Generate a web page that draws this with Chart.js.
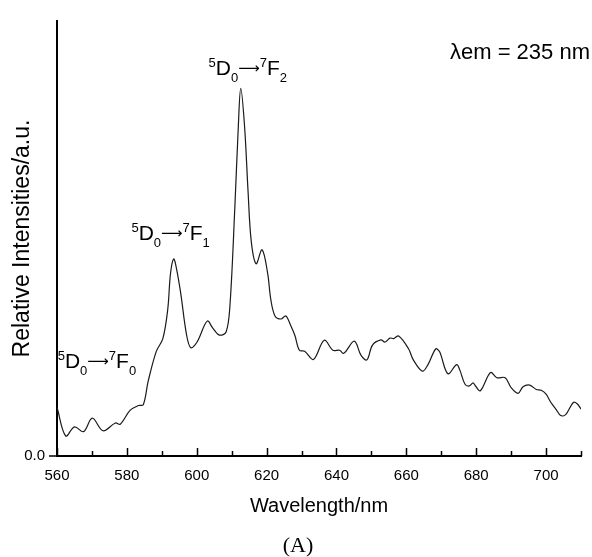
<!DOCTYPE html>
<html>
<head>
<meta charset="utf-8">
<script src="https://cdn.jsdelivr.net/npm/chart.js@4"></script>
<style>
  body { margin: 0; background: #fff; }
  #wrap { width: 592px; height: 557px; }
</style>
</head>
<body>
<div id="wrap"><canvas id="myChart" width="592" height="557"></canvas></div>
<script>
// emission spectrum
const wavelength = [
  560.0, 562.5, 565.0, 567.6, 570.1, 573.2, 576.7, 578.1, 580.9, 583.3,
  584.7, 586.1, 588.4, 590.3, 591.7, 592.5, 593.4, 594.2, 595.4, 597.1,
  598.3, 600.1, 603.0, 604.6, 606.5, 608.4, 609.5, 610.9, 611.9, 612.6,
  613.7, 614.7, 615.6, 617.0, 618.7, 620.3, 621.2, 622.4, 624.1, 625.5,
  626.9, 628.1, 629.4, 630.9, 633.4, 636.5, 639.0, 640.9, 642.1, 645.1,
  647.0, 648.7, 650.3, 652.7, 653.9, 655.3, 656.4, 657.8, 660.6, 662.0,
  664.6, 666.2, 668.4, 669.5, 671.9, 674.4, 675.3, 676.8, 678.0, 679.1,
  679.8, 681.2, 684.1, 685.9, 688.3, 690.0, 692.0, 693.4, 695.3, 697.2,
  698.6, 700.0, 701.4, 702.8, 704.2, 705.6, 707.8, 708.9, 710.0
];
const intensity = [
  0.112, 0.046, 0.067, 0.056, 0.087, 0.058, 0.076, 0.073, 0.105, 0.116,
  0.118, 0.172, 0.240, 0.270, 0.337, 0.420, 0.453, 0.431, 0.375, 0.278,
  0.249, 0.262, 0.310, 0.294, 0.278, 0.285, 0.345, 0.570, 0.757, 0.845,
  0.757, 0.607, 0.494, 0.442, 0.474, 0.420, 0.360, 0.322, 0.315, 0.322,
  0.300, 0.277, 0.243, 0.241, 0.222, 0.266, 0.243, 0.243, 0.236, 0.264,
  0.232, 0.221, 0.255, 0.267, 0.262, 0.271, 0.270, 0.276, 0.247, 0.221,
  0.195, 0.210, 0.246, 0.240, 0.189, 0.210, 0.198, 0.165, 0.161, 0.168,
  0.161, 0.150, 0.192, 0.180, 0.180, 0.157, 0.144, 0.159, 0.163, 0.153,
  0.151, 0.142, 0.123, 0.108, 0.093, 0.095, 0.123, 0.120, 0.108
];
const xMin = 560, xMax = 710;
const yMax = 1.0;

// peak labels: sup, main, sub, sup, main, sub - placed at (wavelength, intensity)
const peakLabels = [
  { parts: ['5', 'D', '0', '7', 'F', '0'], x: 560.2, y: 0.203 },
  { parts: ['5', 'D', '0', '7', 'F', '1'], x: 581.3, y: 0.497 },
  { parts: ['5', 'D', '0', '7', 'F', '2'], x: 603.4, y: 0.877 }
];
const excitationNote = 'λem = 235 nm';
const panelLabel = '(A)';

const FONT = '"Liberation Sans", Arial, sans-serif';

const extraTicks = {
  id: 'extraTicks',
  afterDraw(chart) {
    const ctx = chart.ctx;
    const xs = chart.scales.x, ys = chart.scales.y;
    const bottom = chart.chartArea.bottom, left = chart.chartArea.left;
    ctx.save();
    ctx.strokeStyle = '#000';
    ctx.lineWidth = 1.5;
    for (let v = xMin; v <= xMax; v += 10) {
      const px = Math.round(xs.getPixelForValue(v)) + 0.5;
      const len = v % 20 === 0 ? 8 : 5;
      ctx.beginPath();
      ctx.moveTo(px, bottom);
      ctx.lineTo(px, bottom - len);
      ctx.stroke();
    }
    const py = ys.getPixelForValue(0);
    ctx.beginPath();
    ctx.moveTo(left - 8, py);
    ctx.lineTo(left, py);
    ctx.stroke();

    // transition labels with super/subscripts
    ctx.fillStyle = '#000';
    ctx.textBaseline = 'alphabetic';
    peakLabels.forEach((lab) => {
      let x = xs.getPixelForValue(lab.x);
      const base = ys.getPixelForValue(lab.y);
      const seq = [
        { t: lab.parts[0], f: `13px ${FONT}`, dy: -8 },
        { t: lab.parts[1], f: `21px ${FONT}`, dy: 0 },
        { t: lab.parts[2], f: `13px ${FONT}`, dy: 7 },
        { t: '\u27F6', f: '15px "DejaVu Sans", sans-serif', dy: -2 },
        { t: lab.parts[3], f: `13px ${FONT}`, dy: -8 },
        { t: lab.parts[4], f: `21px ${FONT}`, dy: 0 },
        { t: lab.parts[5], f: `13px ${FONT}`, dy: 7 }
      ];
      seq.forEach((s) => {
        ctx.font = s.f;
        ctx.fillText(s.t, x, base + s.dy);
        x += ctx.measureText(s.t).width;
      });
    });

    ctx.font = `22px ${FONT}`;
    ctx.textAlign = 'right';
    ctx.fillText(excitationNote, chart.width - 2, 59);

    ctx.font = '22px "Liberation Serif", "Times New Roman", serif';
    ctx.textAlign = 'center';
    ctx.fillText(panelLabel, 298, 552);
    ctx.restore();
  }
};

Chart.defaults.color = '#000';
Chart.defaults.font.family = FONT;

const ctx = document.getElementById('myChart');
new Chart(ctx, {
  type: 'line',
  data: {
    datasets: [{
      data: wavelength.map((w, i) => ({ x: w, y: intensity[i] })),
      borderColor: '#1a1a1a',
      borderWidth: 1.2,
      pointRadius: 0,
      tension: 0.35,
      fill: false
    }]
  },
  options: {
    responsive: false,
    animation: false,
    layout: { padding: { top: 12, right: 1, left: 0, bottom: 0 } },
    plugins: { legend: { display: false }, tooltip: { enabled: false } },
    scales: {
      x: {
        type: 'linear',
        min: xMin,
        max: xMax,
        grid: { display: false, drawTicks: false },
        border: { display: true, color: '#000', width: 2 },
        ticks: {
          stepSize: 10,
          autoSkip: false,
          maxRotation: 0,
          padding: 11,
          font: { size: 15 },
          callback: (v) => (v % 20 === 0 ? String(v) : '')
        },
        title: {
          display: true,
          text: 'Wavelength/nm',
          font: { size: 20 },
          padding: { top: 0, bottom: 39 }
        },
        afterFit: (scale) => { scale.height = 101; }
      },
      y: {
        min: 0,
        max: yMax,
        grid: { display: false, drawTicks: false },
        border: { display: true, color: '#000', width: 2 },
        afterBuildTicks: (scale) => { scale.ticks = [{ value: 0 }]; },
        ticks: {
          padding: 12,
          font: { size: 15 },
          callback: (v) => (v === 0 ? '0.0' : '')
        },
        title: {
          display: true,
          text: 'Relative Intensities/a.u.',
          font: { size: 23 },
          padding: { top: 9, bottom: 0 }
        },
        afterFit: (scale) => { scale.width = 57; }
      }
    }
  },
  plugins: [extraTicks]
});
</script>
</body>
</html>
